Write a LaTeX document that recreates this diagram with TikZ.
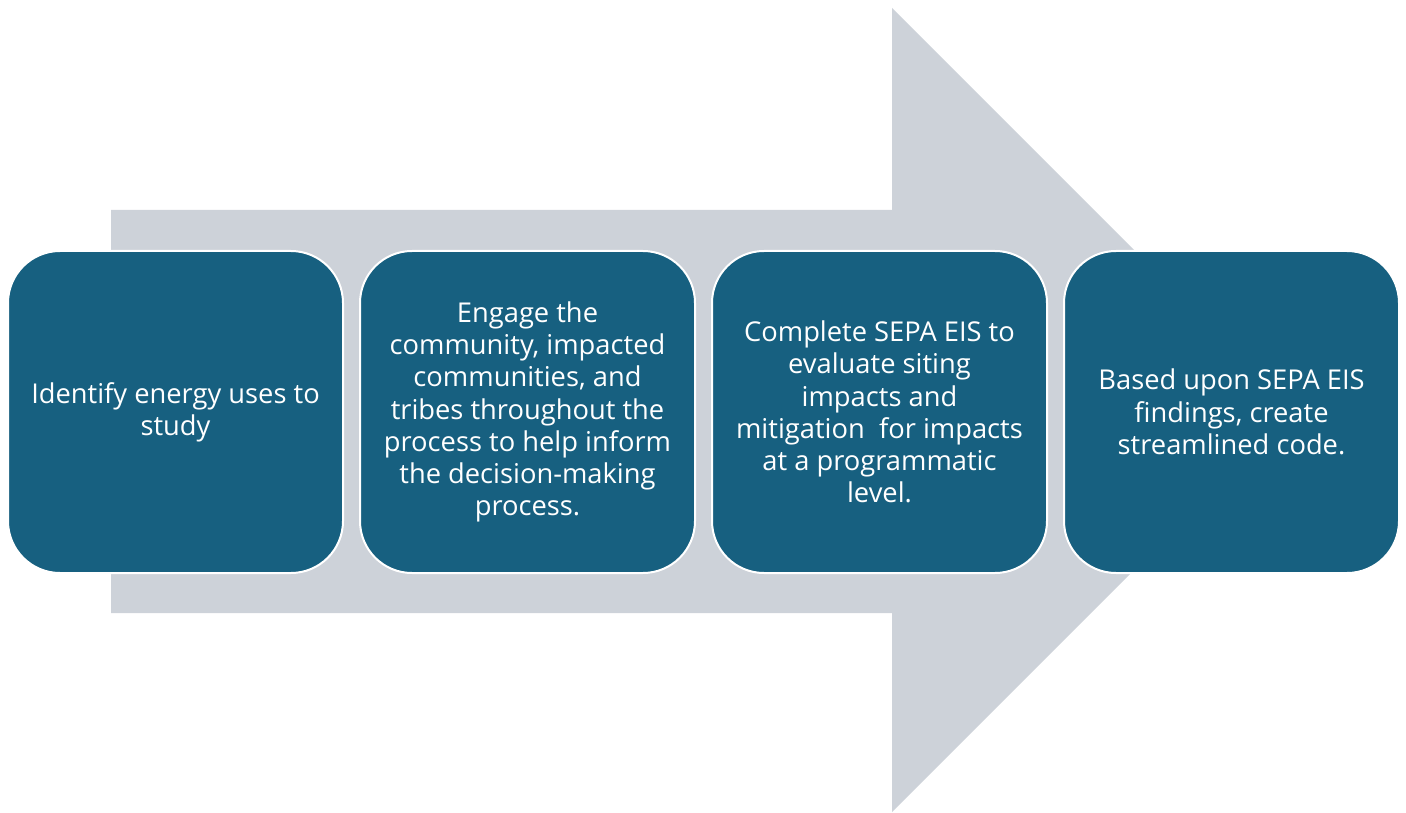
\documentclass[tikz,border=0pt]{standalone}
\usepackage{fontspec}
\setmainfont{Open Sans}
\definecolor{boxblue}{RGB}{23,96,128}
\definecolor{arrowgrey}{RGB}{205,210,217}
\begin{document}
\begin{tikzpicture}[x=1pt,y=-1pt,
  stepbox/.style={rectangle, rounded corners=52pt, fill=boxblue, draw=white,
    line width=2pt, minimum width=335pt, minimum height=322pt, inner sep=0pt,
    text=white, align=center,
    font=\fontsize{27.3}{32.3}\selectfont}]
\useasboundingbox (0,0) rectangle (1406,813);
% big arrow
\fill[arrowgrey] (111,210) -- (892,210) -- (892,8) -- (1294,410)
  -- (892,812) -- (892,613) -- (111,613) -- cycle;
% step boxes
\node[stepbox] (s1) at (175.5,412) {Identify energy uses to\\study};
\node[stepbox] (s2) at (527.5,412) {Engage the\\community, impacted\\communities, and\\tribes throughout the\\process to help inform\\the decision-making\\process.};
\node[stepbox] (s3) at (879.5,412) {Complete SEPA EIS to\\evaluate siting\\impacts and\\mitigation\ \ for impacts\\at a programmatic\\level.};
\node[stepbox] (s4) at (1231.5,412) {Based upon SEPA EIS\\findings, create\\streamlined code.};
\end{tikzpicture}
\end{document}
